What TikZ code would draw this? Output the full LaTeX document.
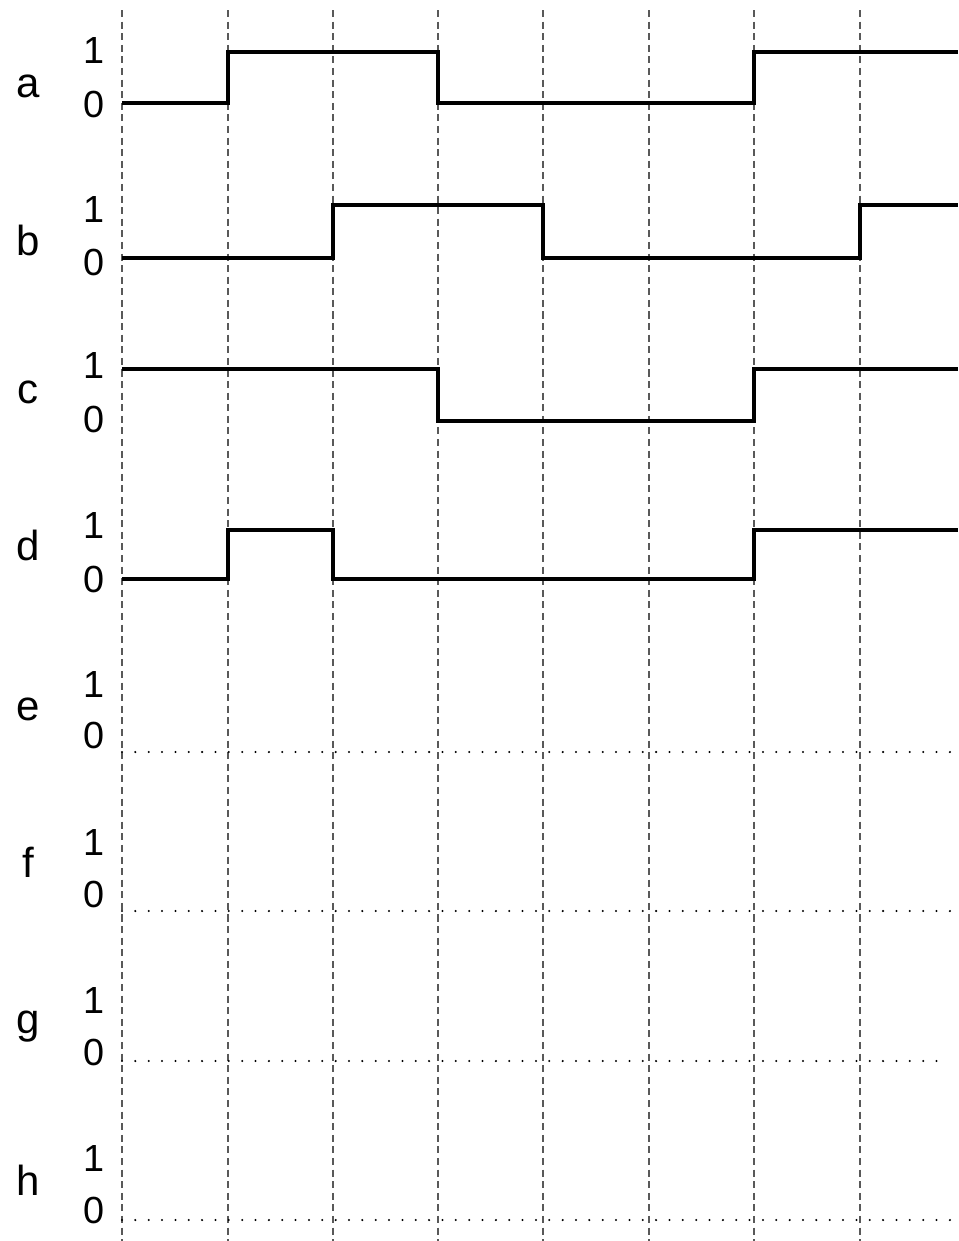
\documentclass[tikz,border=0pt]{standalone}
\usepackage{fontspec}
\setmainfont{Liberation Sans}
\usepackage{tikz}
\usetikzlibrary{calc, positioning}

\begin{document}
\begin{tikzpicture}[x=0.02cm, y=-0.02cm,
    wave/.style={line width=2.3pt},
    gridline/.style={gray!70!black, line width=0.6pt, dash pattern=on 4pt off 2.6pt},
    zeroline/.style={line width=1.3pt, line cap=round, dash pattern=on 0pt off 7.6pt},
    siglabel/.style={anchor=base, inner sep=0pt, font=\fontsize{23.9}{28}\selectfont},
    lvllabel/.style={anchor=base east, inner sep=0pt, font=\fontsize{21.5}{25}\selectfont}]
  \useasboundingbox (0,0) rectangle (958,1241);

  % Time grid
  \foreach \x in {122,228,333,438,543,649,754,860}
    \draw[gridline] (\x,10) -- (\x,1241);

  % Signal names and levels: name/baseline/1-baseline/0-baseline
  \foreach \s/\yb/\yo/\yz in {a/97/63/117, b/255/222/275, c/403/378/432, d/560/538/592,
                              e/720/697/748, f/877/855/907, g/1033/1013/1065, h/1195/1171/1223}{
    \node[siglabel] (name-\s) at (28,\yb) {\s};
    \node[lvllabel] (one-\s) at (105,\yo) {1};
    \node[lvllabel] (zero-\s) at (105,\yz) {0};
  }

  % Given waveforms
  \draw[wave] (122,103) -| (228,52) -| (438,103) -| (754,52) -- (958,52);
  \draw[wave] (122,258) -| (333,205) -| (543,258) -| (860,205) -- (958,205);
  \draw[wave] (122,369) -| (438,421) -| (754,369) -- (958,369);
  \draw[wave] (122,579) -| (228,530) -| (333,579) -| (754,530) -- (958,530);

  % Empty rows to fill in
  \draw[zeroline] (122,752) -- (958,752);
  \draw[zeroline] (122,911) -- (958,911);
  \draw[zeroline] (122,1061) -- (945,1061);
  \draw[zeroline] (122,1220) -- (958,1220);
\end{tikzpicture}
\end{document}
